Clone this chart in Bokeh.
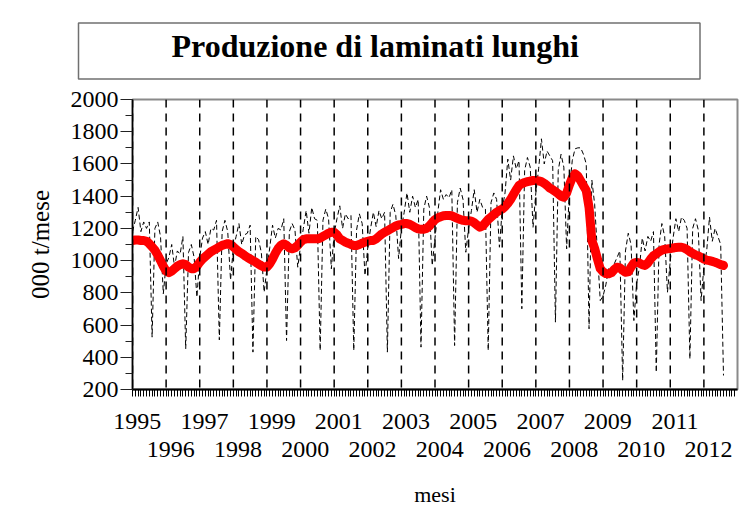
from bokeh.plotting import figure
from bokeh.models import Range1d, LinearAxis, FixedTicker, Span, Title, CustomJSTickFormatter
from bokeh.embed import file_html
from bokeh.resources import INLINE

# ---- data (000 t / month), Jan 1995 .. Aug 2012 ----
anno_inizio = 1995
produzione = [
    1180, 1250, 1330, 1180, 1240, 1200, 1240, 525, 1200, 1240, 1150, 794,   # 1995
    980, 1020, 1100, 960, 1060, 1040, 1150, 453, 1050, 1100, 1020, 773,     # 1996
    1020, 1140, 1180, 1100, 1200, 1190, 1250, 508, 1180, 1250, 1180, 880,   # 1997
    1080, 1150, 1230, 1100, 1160, 1170, 1220, 432, 1150, 1130, 1050, 804,   # 1998
    950, 1080, 1220, 1140, 1200, 1190, 1260, 504, 1180, 1230, 1190, 959,    # 1999
    1090, 1200, 1310, 1170, 1330, 1260, 1250, 442, 1250, 1320, 1260, 949,   # 2000
    1170, 1260, 1340, 1200, 1290, 1260, 1280, 442, 1190, 1290, 1230, 908,   # 2001
    1080, 1200, 1300, 1210, 1310, 1260, 1300, 432, 1300, 1350, 1280, 1013,  # 2002
    1200, 1300, 1420, 1300, 1400, 1330, 1380, 463, 1320, 1400, 1330, 970,   # 2003
    1140, 1300, 1440, 1380, 1410, 1390, 1440, 473, 1360, 1450, 1380, 1052,  # 2004
    1200, 1310, 1440, 1300, 1380, 1330, 1320, 442, 1360, 1420, 1380, 1083,  # 2005
    1320, 1420, 1630, 1500, 1650, 1570, 1620, 701, 1560, 1640, 1580, 1207,  # 2006
    1420, 1570, 1756, 1600, 1680, 1650, 1620, 618, 1560, 1660, 1580, 1073,  # 2007
    1440, 1620, 1694, 1700, 1700, 1660, 1600, 577, 1500, 1350, 1050, 752,   # 2008
    780, 850, 950, 900, 980, 1020, 1060, 256, 1060, 1170, 1100, 628,        # 2009
    860, 960, 1140, 1060, 1150, 1120, 1180, 307, 1100, 1230, 1150, 804,     # 2010
    1000, 1140, 1260, 1180, 1270, 1250, 1200, 390, 1200, 1260, 1190, 752,   # 2011
    960, 1060, 1270, 1120, 1200, 1150, 1100, 287,                           # 2012
]
tendenza = [
    1125, 1128, 1128, 1125, 1125, 1120, 1105, 1085, 1065, 1035, 1000, 965,  # 1995
    935, 925, 935, 950, 965, 975, 980, 975, 960, 950, 950, 965,             # 1996
    990, 1010, 1025, 1040, 1055, 1065, 1075, 1085, 1095, 1100, 1105, 1100,  # 1997
    1085, 1070, 1055, 1045, 1032, 1020, 1010, 1000, 990, 978, 968, 960,     # 1998
    960, 980, 1010, 1045, 1075, 1095, 1104, 1095, 1080, 1073, 1080, 1095,   # 1999
    1115, 1130, 1135, 1135, 1135, 1135, 1135, 1140, 1150, 1160, 1170, 1176, # 2000
    1176, 1160, 1135, 1125, 1115, 1108, 1100, 1094, 1094, 1100, 1108, 1115, # 2001
    1120, 1125, 1125, 1135, 1150, 1165, 1176, 1185, 1195, 1205, 1215, 1222, # 2002
    1225, 1230, 1230, 1225, 1215, 1205, 1197, 1195, 1195, 1200, 1215, 1235, # 2003
    1255, 1265, 1272, 1278, 1280, 1280, 1278, 1270, 1262, 1255, 1250, 1248, # 2004
    1248, 1245, 1235, 1220, 1207, 1215, 1235, 1255, 1270, 1285, 1300, 1311, # 2005
    1320, 1335, 1355, 1380, 1410, 1440, 1466, 1478, 1485, 1490, 1494, 1497, # 2006
    1497, 1495, 1490, 1480, 1466, 1450, 1440, 1428, 1415, 1400, 1394, 1420, # 2007
    1470, 1515, 1539, 1525, 1495, 1465, 1435, 1330, 1125, 1075, 1010, 950,  # 2008
    930, 920, 918, 925, 945, 959, 955, 940, 928, 930, 960, 985,             # 2009
    990, 985, 975, 970, 985, 1010, 1030, 1042, 1055, 1065, 1070, 1073,      # 2010
    1075, 1078, 1082, 1083, 1083, 1078, 1068, 1055, 1045, 1035, 1030, 1020, # 2011
    1010, 1003, 1000, 995, 990, 983, 975, 970,                              # 2012
]
anni = list(range(1995, 2013))
anni_dispari = [a for a in anni if a % 2 == 1]
anni_pari = [a for a in anni if a % 2 == 0]
tick_y = list(range(200, 2001, 200))
tick_y_minori = list(range(200, 2001, 100))
titolo = "Produzione di laminati lunghi"

mesi_x = [anno_inizio + i / 12 for i in range(len(produzione))]
tutti_mesi = [anno_inizio + i / 12 for i in range(12 * len(anni))]

FONT = "Liberation Serif"

p = figure(frame_width=605, frame_height=290, x_range=Range1d(1995, 2013), y_range=Range1d(200, 2000),
           x_axis_location=None, output_backend="svg", toolbar_location=None,
           min_border_left=132, min_border_right=11, min_border_top=99, min_border_bottom=118)
p.grid.visible = False
p.background_fill_color = "white"
p.border_fill_color = "white"
p.outline_line_color = "#8a8a8a"
p.outline_line_width = 2

p.title = Title(text=titolo, align="left", offset=-54, standoff=41,
                text_font=FONT, text_font_style="bold", text_font_size="32px",
                text_color="black",
                padding=dict(left=93, right=121, top=5, bottom=15),
                border_line_color="#707070", border_line_width=1.5,
                background_fill_color="white")

# y axis
ya = p.yaxis[0]
ya.ticker = FixedTicker(ticks=tick_y, minor_ticks=tick_y_minori)
ya.axis_line_color = "black"
ya.axis_line_width = 1.5
ya.major_tick_out = 12
ya.major_tick_in = 0
ya.minor_tick_out = 7
ya.minor_tick_in = 0
ya.major_tick_line_color = "#222222"
ya.minor_tick_line_color = "#222222"
ya.major_label_text_font = FONT
ya.major_label_text_font_size = "24px"
ya.major_label_text_color = "black"
ya.major_label_standoff = 2
ya.axis_label = "000 t/mese"
ya.axis_label_text_font = FONT
ya.axis_label_text_font_style = "normal"
ya.axis_label_text_font_size = "25px"
ya.axis_label_text_color = "black"
ya.axis_label_standoff = 14

fmt = CustomJSTickFormatter(code="return Math.floor(tick).toFixed(0);")

ax1 = LinearAxis(ticker=FixedTicker(ticks=[a + 0.14 for a in anni_dispari], minor_ticks=tutti_mesi),
                 formatter=fmt)
ax1.axis_line_color = "black"
ax1.axis_line_width = 2
ax1.major_tick_line_color = None
ax1.major_tick_out = 0
ax1.major_tick_in = 0
ax1.minor_tick_out = 7
ax1.minor_tick_in = 0
ax1.minor_tick_line_color = "black"
ax1.major_label_text_font = FONT
ax1.major_label_text_font_size = "24px"
ax1.major_label_text_color = "black"
ax1.major_label_standoff = 17
p.add_layout(ax1, "below")

ax2 = LinearAxis(ticker=FixedTicker(ticks=[a + 0.14 for a in anni_pari], minor_ticks=[]),
                 formatter=fmt)
ax2.axis_line_color = None
ax2.major_tick_line_color = None
ax2.minor_tick_line_color = None
ax2.major_tick_out = 0
ax2.major_tick_in = 0
ax2.major_label_text_font = FONT
ax2.major_label_text_font_size = "24px"
ax2.major_label_text_color = "black"
ax2.major_label_standoff = 10
ax2.axis_label = "mesi"
ax2.axis_label_text_font = FONT
ax2.axis_label_text_font_style = "normal"
ax2.axis_label_text_font_size = "22px"
ax2.axis_label_text_color = "black"
ax2.axis_label_standoff = 22
p.add_layout(ax2, "below")

# vertical dashed year lines
for a in anni:
    p.add_layout(Span(location=a, dimension="height", line_color="black",
                      line_width=1.5, line_dash="8 6"))

p.line(mesi_x, produzione, line_color="black", line_width=1, line_dash="5 3")
p.line(mesi_x, tendenza, line_color="#ff0000", line_width=9, line_join="round", line_cap="round")

open("out.html", "w").write(file_html(p, INLINE))
